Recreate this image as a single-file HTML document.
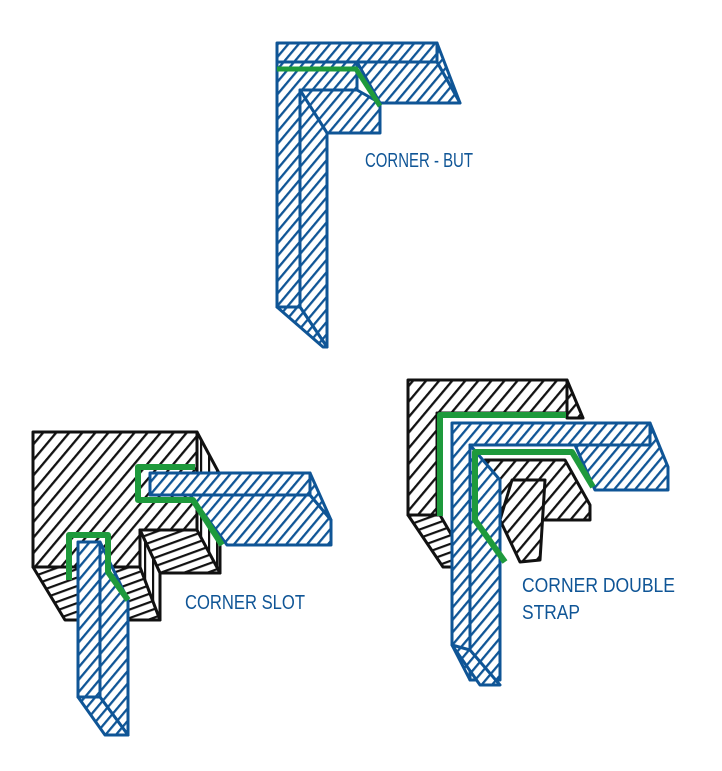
<!DOCTYPE html>
<html><head><meta charset="utf-8"><style>
html,body{margin:0;padding:0;background:#fff;}
svg{display:block}
text{font-family:"Liberation Sans",sans-serif;fill:#0f5596;font-size:20px}
</style></head><body>
<svg width="722" height="771" viewBox="0 0 722 771" xmlns="http://www.w3.org/2000/svg">
<defs>
<pattern id="hb" width="8" height="8" patternUnits="userSpaceOnUse" patternTransform="rotate(40)">
<rect width="8" height="8" fill="#fff"/><line x1="1" y1="0" x2="1" y2="8" stroke="#0f5596" stroke-width="2.6"/></pattern>
<pattern id="hk" width="10" height="10" patternUnits="userSpaceOnUse" patternTransform="rotate(40)">
<rect width="10" height="10" fill="#fff"/><line x1="1" y1="0" x2="1" y2="10" stroke="#111" stroke-width="2.6"/></pattern>
<pattern id="hv" width="8" height="8" patternUnits="userSpaceOnUse">
<rect width="8" height="8" fill="#fff"/><line x1="1" y1="0" x2="1" y2="8" stroke="#111" stroke-width="2.4"/></pattern>
<pattern id="hh" width="8" height="8" patternUnits="userSpaceOnUse" patternTransform="rotate(-20)">
<rect width="8" height="8" fill="#fff"/><line x1="0" y1="1" x2="8" y2="1" stroke="#111" stroke-width="2.4"/></pattern>
</defs>

<!-- Diagram 1 -->
<g stroke="#0f5596" stroke-width="3" stroke-linejoin="round" fill="url(#hb)">
<polygon points="277,43 437,43 437,62 277,62"/>
<polygon points="437,43 460,103 437,62"/>
<polygon points="357,62 437,62 460,103 380,103"/>
<polygon points="300,90 357,90 380,103 380,133 327,133"/>
<polygon points="277,62 357,62 357,90 300,90 300,307 277,307"/>
<polygon points="300,90 327,133 327,347 300,307"/>
<polygon points="277,307 300,307 327,347 323,347"/>
</g>
<polyline points="277,69 356,69 380,106" fill="none" stroke="#1e9a3c" stroke-width="5"/>
<text x="365" y="167" textLength="108" lengthAdjust="spacingAndGlyphs">CORNER - BUT</text>

<!-- Diagram 2 -->
<g stroke="#111" stroke-width="3" stroke-linejoin="round">
<polygon points="33,432 197,432 197,530 140,530 140,567 33,567" fill="url(#hk)"/>
<polygon points="197,432 220,475 220,573 197,563" fill="url(#hv)"/>
<polygon points="33,567 140,567 160,620 65,620" fill="url(#hh)"/>
<polygon points="140,530 197,530 220,573 160,573" fill="url(#hh)"/>
<polygon points="140,530 160,573 160,620 140,567" fill="url(#hv)"/>
</g>
<g stroke="#0f5596" stroke-width="3" stroke-linejoin="round" fill="url(#hb)">
<polygon points="150,473 310,473 310,495 150,495"/>
<polygon points="190,495 310,495 331,520 331,545 227,545"/>
<polygon points="310,473 331,520 310,495"/>
<polygon points="78,542 100,542 100,697 78,697"/>
<polygon points="100,542 128,600 128,735 100,697"/>
<polygon points="78,697 100,697 128,735 105,735"/>
</g>
<g fill="none" stroke="#1e9a3c" stroke-width="6" stroke-linejoin="round">
<polyline points="195,467 138,467 138,500 193,500 222,545"/>
<polyline points="128,600 108,572 108,535 69,535 69,580"/>
</g>
<text x="185" y="609" textLength="120" lengthAdjust="spacingAndGlyphs">CORNER SLOT</text>

<!-- Diagram 3 -->
<g stroke="#111" stroke-width="3" stroke-linejoin="round">
<polygon points="408,380 567,380 567,413 437,413 437,515 408,515" fill="url(#hk)"/>
<polygon points="567,380 583,418 567,418" fill="url(#hk)"/>
<polygon points="485,460 565,460 590,505 590,520 515,520 500,520" fill="url(#hk)"/>
<polygon points="408,515 440,515 470,567 443,567" fill="url(#hh)"/>
<polygon points="512,480 545,480 540,560 520,562 500,520" fill="url(#hk)"/>
</g>
<g stroke="#0f5596" stroke-width="3" stroke-linejoin="round" fill="url(#hb)">
<polygon points="452,423 650,423 650,445 470,445 470,680 452,645"/>
<polygon points="650,423 668,467 668,490 595,490 575,445 650,445"/>
<polygon points="470,445 500,480 500,680 470,680"/>
<polygon points="452,645 470,650 500,685 480,685"/>
</g>
<g fill="none" stroke="#1e9a3c" stroke-width="6" stroke-linejoin="round">
<polyline points="440,516 440,415 566,415"/>
<polyline points="505,562 475,520 475,452 572,452 593,487"/>
</g>
<text x="522" y="592" textLength="153" lengthAdjust="spacingAndGlyphs">CORNER DOUBLE</text>
<text x="522" y="619" textLength="58" lengthAdjust="spacingAndGlyphs">STRAP</text>
</svg>
</body></html>
